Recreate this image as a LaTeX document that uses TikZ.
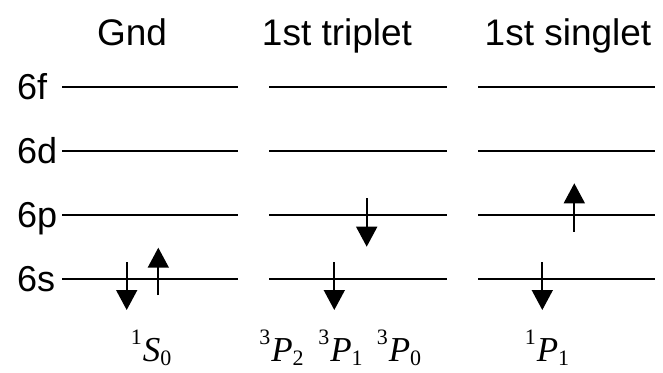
\documentclass[tikz,border=0pt]{standalone}
\usepackage{fontspec}
\setmainfont{Liberation Serif}
\newfontfamily\arialfont{Liberation Sans}
\usetikzlibrary{arrows.meta}

% terme spectroscopique : exposant, lettre italique, indice
\newcommand{\etat}[3]{\raisebox{17pt}{\fontsize{22}{22}\selectfont #1}%
  \kern1pt\textit{#2}\raisebox{-4pt}{\fontsize{22}{22}\selectfont #3}}

\tikzset{
  niveau/.style={line width=1.7pt},
  spin/.style={line width=1.7pt, -{Triangle[length=20pt,width=21pt]}},
  colonne/.style={font=\arialfont\fontsize{37}{40}\selectfont, anchor=base, inner sep=0pt},
  orbitale/.style={font=\arialfont\fontsize{36}{40}\selectfont, anchor=base west, inner sep=0pt},
  terme/.style={font=\fontsize{35}{38}\selectfont, anchor=base, inner sep=0pt}
}

\begin{document}
\begin{tikzpicture}[x=1pt, y=-1pt]
  \useasboundingbox (0,0) rectangle (663,372);
  % Titres des colonnes
  \node[colonne] (gnd) at (132,45.7) {Gnd};
  \node[colonne] (triplet) at (337,45.7) {1st triplet};
  \node[colonne] (singlet) at (568,45.7) {1st singlet};
  % Niveaux d'energie : etiquette a gauche, un trait par colonne
  \foreach \y/\nom in {86.7/6f, 150.7/6d, 215/6p, 279/6s} {
    \node[orbitale] (orb\nom) at (17,\y+12.5) {\nom};
    \foreach \xa/\xb in {62/238, 269/447, 478/655}
      \draw[niveau] (\xa,\y) -- (\xb,\y);
  }
  % Spins : etat fondamental
  \draw[spin] (126.7,262) -- (126.7,310);
  \draw[spin] (158.3,295) -- (158.3,247.7);
  % Spins : premier triplet
  \draw[spin] (334.3,262) -- (334.3,310);
  \draw[spin] (366.7,198) -- (366.7,246.7);
  % Spins : premier singulet
  \draw[spin] (542.3,262) -- (542.3,310);
  \draw[spin] (574.3,231.7) -- (574.3,183.3);
  % Termes
  \node[terme] (s0) at (151,361) {\etat{1}{S}{0}};
  \node[terme] (p2) at (281.5,361) {\etat{3}{P}{2}};
  \node[terme] (p1) at (340.5,361) {\etat{3}{P}{1}};
  \node[terme] (p0) at (399,361) {\etat{3}{P}{0}};
  \node[terme] (p1s) at (547,361) {\etat{1}{P}{1}};
\end{tikzpicture}
\end{document}
